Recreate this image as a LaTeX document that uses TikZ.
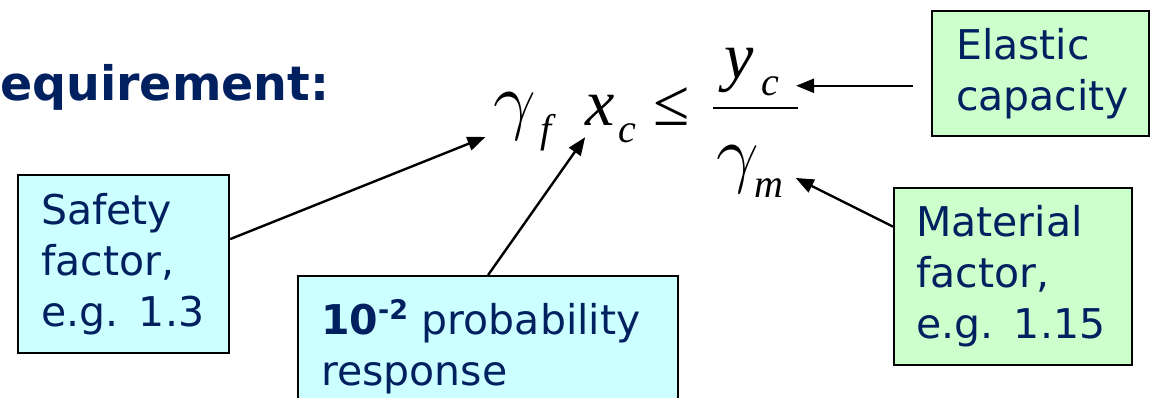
\documentclass[tikz,border=0pt]{standalone}
\usepackage{fix-cm}
\usepackage{fontspec}
\setmainfont{DejaVu Sans}
\newfontfamily\eqfont{Liberation Serif}
\usetikzlibrary{arrows.meta}
\definecolor{navytext}{RGB}{0,32,96}
\definecolor{cyanfill}{RGB}{204,255,255}
\definecolor{greenfill}{RGB}{204,255,204}
\newcommand{\boxfont}{\fontsize{41}{51}\selectfont}
\newcommand{\eqBig}{\eqfont\itshape\fontsize{66}{66}\selectfont}
\newcommand{\eqSub}{\eqfont\itshape\fontsize{40}{40}\selectfont}
\tikzset{
  infobox/.style={draw=black, line width=2.2pt, anchor=north west, align=left, text=navytext, font=\boxfont, inner xsep=23pt},
  sym/.style={anchor=base, inner sep=0pt, font=\eqBig},
  gsym/.style={anchor=base, inner sep=0pt, font=\fontsize{76}{76}\selectfont},
  subsym/.style={anchor=base, inner sep=0pt, font=\eqSub},
  arr/.style={-{Triangle[length=18pt,width=14pt]}, line width=2.4pt},
}

\begin{document}
\begin{tikzpicture}[x=1pt,y=-1pt]
\useasboundingbox (0,0) rectangle (1158,397);
\node[anchor=base west, inner sep=0pt, text=navytext, font=\bfseries\fontsize{47.5}{47.5}\selectfont] (title) at (0,100) {equirement:};
% the formula
\node[gsym] (gam) at (515,125) {$\gamma$};
\node[subsym] (subf) at (546,142) {f};
\node[sym] (xc) at (600,125) {x};
\node[subsym] (subc) at (627,142) {c};
\node[sym, font=\eqfont\fontsize{66}{66}\selectfont] (leq) at (672,125) {≤};
\draw[line width=2.5pt] (713,108) -- (798,108);
\node[sym] (yc) at (739,78) {y};
\node[subsym] (subyc) at (770,95) {c};
\node[gsym] (gm) at (738,178) {$\gamma$};
\node[subsym] (subm) at (769,197) {m};
% boxes
\node[infobox, fill=cyanfill, text width=165pt, minimum width=211pt, minimum height=178pt] (safety) at (17,174) {Safety\\factor,\\e.g. 1.3};
\node[infobox, fill=cyanfill, text width=334pt, minimum width=380pt, inner ysep=23pt] (prob) at (297,275) {\textbf{10}{\fontsize{27}{27}\selectfont\raisebox{15pt}{\textbf{-2}}} probability\\response};
\node[infobox, fill=greenfill, text width=169pt, minimum width=217pt, minimum height=125pt, inner xsep=24pt] (elastic) at (931,10) {Elastic\\capacity};
\node[infobox, fill=greenfill, text width=194pt, minimum width=238pt, minimum height=177pt, inner xsep=22pt] (material) at (893,187) {Material\\factor,\\e.g. 1.15};
% arrows
\draw[arr] ([yshift=25pt]safety.east) -- ([xshift=-8pt,yshift=3pt]gam.south west);
\draw[arr] (prob.north) -- ([yshift=-12pt]xc.south west);
\draw[arr, shorten <=18pt] (elastic.west |- subyc.east) -- ([xshift=17pt]subyc.east);
\draw[arr] ([yshift=50pt]material.west) -- ([xshift=12pt]subm.north east);
\end{tikzpicture}
\end{document}
